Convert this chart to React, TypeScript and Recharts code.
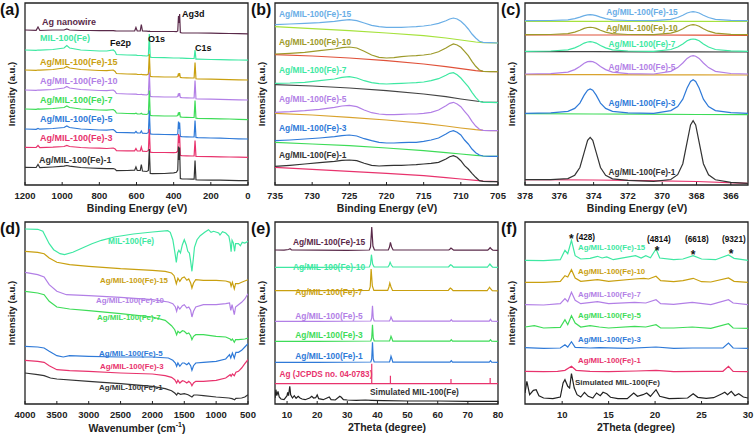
import React from "react";
import { Line, LineChart, ReferenceArea, XAxis, YAxis } from "recharts";

const FONT = "'Liberation Sans', Arial, Helvetica, sans-serif";

const DARK = "#333333";
const PINK = "#e8336d";
const BLUE = "#2f7ad8";
const GREEN = "#3edc58";
const PURPLE = "#b27fe6";
const GOLD = "#c9a010";
const MINT = "#3ee8a2";
const MAROON = "#5a2a4a";
const SKY = "#6aaee6";
const OLIVE = "#9d9a2a";
const LIME = "#a6e23c";
const RED = "#e0523a";
const ORANGE = "#d9a32e";

// (a) XPS survey
const surveyEnergy = [1200, 1140, 1130, 1120, 1050, 990, 975, 960, 900, 850, 800, 760, 725, 715, 708, 650, 610, 603, 596, 580, 574, 568, 545, 536, 531, 526, 515, 450, 400, 385, 378, 374, 371, 368, 364, 355, 330, 300, 290, 285, 280, 270, 200, 150, 100, 50, 0];
const surveyAgNanowire = [155, 154.7, 158, 154.5, 155, 155, 156, 155, 154.5, 154.5, 154.3, 154.3, 154.3, 154.2, 154, 154, 154, 157.5, 154, 154, 160.5, 154, 153.8, 153.6, 153.8, 153.5, 153.5, 153.5, 153.5, 153.3, 154, 169, 162, 171, 152.5, 152, 152, 152, 152, 152, 152, 152, 151.8, 151.6, 151.5, 151.4, 151.2];
const surveyMil = [135, 134.7, 135, 134.8, 135.5, 137, 139.5, 137, 135, 134.5, 134, 134, 135, 133.5, 130.5, 130, 129.8, 129.8, 129.6, 129.5, 129.5, 129.3, 129, 129.5, 151, 127.8, 127.5, 127.3, 127, 127, 127, 127, 127, 127, 126.8, 126.8, 126.7, 126.5, 126.5, 135, 125.8, 125.8, 125.5, 125.3, 125.2, 125, 124.8];
const survey15 = [115, 114.7, 115, 114.8, 115.5, 117, 118.5, 117, 115.5, 115, 114.5, 114.3, 115, 113.5, 111.5, 111, 110.8, 111, 110.6, 110.5, 110.7, 110.3, 110.2, 111, 131, 108.5, 108.3, 108, 108, 108, 108.5, 111.5, 109, 112, 107.5, 107.3, 107.2, 107, 107, 122.5, 106.2, 106, 105.8, 105.6, 105.4, 105.2, 105];
const survey10 = [95, 94.7, 95, 94.8, 95.5, 97, 98.5, 97, 95.5, 95, 94.5, 94.3, 95, 93.5, 91.5, 91, 90.8, 90.9, 90.6, 90.5, 90.7, 90.3, 90, 91, 112.5, 88.5, 88.3, 88, 88, 88, 88.5, 91.5, 89, 92, 87.5, 87.3, 87.2, 87, 87, 104.5, 86.2, 86, 85.8, 85.6, 85.4, 85.2, 85];
const survey7 = [76, 75.7, 76.2, 75.8, 76.5, 77.5, 79, 77.5, 76, 75.5, 75, 74.8, 75.5, 74, 72, 71.5, 71.3, 71.8, 71.1, 71, 71.8, 70.8, 70.5, 71.5, 94.5, 69.5, 69.3, 69, 69, 69, 69.5, 72.5, 70, 73, 68, 67.8, 67.7, 67.5, 67.5, 84.5, 66.8, 66.6, 66.4, 66.2, 66, 65.7, 65.3];
const survey5 = [56, 55.7, 56.5, 55.8, 56.5, 57.5, 59, 57.5, 56, 55.5, 55, 54.8, 55.5, 54, 52.5, 52.3, 52.2, 53.5, 52, 52, 54, 51.8, 51.5, 52.5, 74.5, 51, 50.8, 50.5, 50.3, 50.3, 51, 63.5, 56, 62.5, 48.5, 48.3, 48.2, 48, 48, 64.5, 47.5, 47.3, 47, 46.8, 46.5, 46.2, 46];
const survey3 = [37.7, 37.5, 39.5, 37.3, 37.8, 38.5, 39.5, 38.5, 37.5, 37, 36.8, 36.5, 37, 36, 34.3, 34.2, 34.2, 36.5, 34, 34, 38, 33.8, 33.5, 34.5, 56, 32.8, 32.6, 32.5, 32.3, 32.5, 34, 51, 42, 49.5, 29.5, 29.3, 29.2, 29, 29, 44.5, 28.6, 28.5, 28.3, 28.2, 28, 27.8, 27.6];
const survey1 = [17.7, 17.5, 20.5, 17.3, 18, 18.8, 19.5, 18.8, 17.5, 17, 16.6, 16.3, 16.5, 15.8, 14.3, 14.5, 14.8, 18, 14.5, 14.5, 20.5, 14, 13.5, 14.5, 36, 11.5, 11.3, 11.5, 12.2, 12.7, 15, 38.5, 25, 37.5, 6.5, 6.2, 6, 5.8, 5.8, 24.5, 5.2, 5, 4.9, 4.8, 4.6, 4.4, 4.3];

// (b) Fe 2p
const fe2pEnergy = [735, 733, 731, 729, 727, 726, 725, 724, 723, 722, 721, 720, 719, 718, 717, 716, 715, 714, 713, 712, 711.5, 711, 710.5, 710, 709.5, 709, 708.5, 708, 707.5, 707, 706, 705];
const fe2p15 = [160.3, 161, 161.7, 162.3, 163.7, 164.7, 165.3, 164.3, 162, 159.7, 158.3, 157.7, 157.7, 157.7, 158, 158.3, 159, 160, 161.7, 164.3, 166, 167, 166, 163.7, 160.3, 156, 151, 147, 143.7, 142.7, 142.3, 142];
const fe2p10 = [131, 131.7, 132.7, 134.3, 136, 137.3, 138, 137, 133.7, 130, 127.7, 127, 127.3, 128.3, 129, 129.3, 130, 131, 133.3, 137, 139.3, 141, 140, 137.7, 133.7, 129.3, 123.7, 118.7, 115, 113.7, 113.3, 113.3];
const fe2p7 = [101.7, 102, 102.7, 104.3, 106, 107.7, 108.3, 107, 104.3, 102.3, 101.3, 101, 101.3, 101.7, 102, 102.3, 103, 104.3, 106.3, 109.7, 111.7, 112.3, 110.3, 107, 102.7, 98.3, 92.7, 87.7, 83.7, 82.7, 82.7, 82.3];
const fe2p5 = [72.7, 73.3, 74.3, 75.7, 77.7, 79, 79.7, 78.3, 75, 72.3, 71, 70.3, 70.3, 70.7, 71, 71, 71.7, 72.7, 75, 79.3, 81.7, 82.7, 81, 78.3, 73.7, 69.3, 63.7, 59, 55.7, 54.7, 54.3, 54.3];
const fe2p3 = [44.3, 45, 46, 47, 48.3, 49.3, 50, 49, 46.3, 44.3, 42.7, 42, 42, 42.3, 42.7, 42.7, 43.7, 45, 47, 51, 53.3, 54.3, 52.7, 50, 45, 41, 36, 32.3, 30, 29, 28.7, 28.7];
const fe2p1 = [18.7, 19.7, 21, 22.3, 23.7, 24.7, 25, 24.3, 21.7, 19.7, 19, 19.3, 19.7, 19.7, 20, 20.3, 21, 21.7, 22.7, 26, 28.3, 29.3, 27.7, 24.3, 19.3, 16, 11.7, 7.7, 4.3, 3.7, 3.3, 3.3];
const fe2pBgEnergy = [735, 730, 725, 720, 715, 712, 710, 708, 707, 705];
const fe2pBg15 = [158.3, 156.3, 154.3, 152, 149.3, 147, 145, 143, 142.3, 142];
const fe2pBg10 = [130.3, 129, 127, 124.3, 121, 118.3, 116.3, 114.3, 113.7, 113.3];
const fe2pBg7 = [100.3, 99, 97, 94.3, 91, 88.3, 86, 84, 83, 82.7];
const fe2pBg5 = [71.7, 70, 67.7, 65, 61.7, 59, 57, 55.3, 54.7, 54.3];
const fe2pBg3 = [42.7, 41, 39.3, 37, 34.3, 32.3, 31, 29.7, 29, 28.7];
const fe2pBg1 = [17.7, 15.7, 13.7, 11.7, 9.3, 7.3, 6, 4.7, 4, 3.3];

// (c) Ag 3d
const ag3dEnergy = [378, 376.5, 375.5, 375.1, 374.8, 374.55, 374.35, 374.2, 374.05, 373.85, 373.6, 373.3, 372.9, 372, 370.5, 369.5, 369.1, 368.8, 368.55, 368.35, 368.2, 368.05, 367.85, 367.6, 367.3, 366.9, 366, 365];
const ag3d15 = [164.3, 164.5, 165.2, 166.4, 167.9, 169.4, 170.1, 170.3, 170.1, 169.4, 167.9, 166.4, 165.2, 164.5, 164.3, 165.6, 167.5, 169.7, 172, 173, 173.3, 173, 172, 169.7, 167.5, 165.6, 164.6, 164.3];
const ag3d10 = [150.3, 150.5, 151.4, 152.9, 154.7, 156.6, 157.5, 157.7, 157.5, 156.6, 154.7, 152.9, 151.4, 150.5, 150.3, 151.8, 153.8, 156.3, 158.8, 160, 160.3, 160, 158.8, 156.3, 153.8, 151.8, 150.6, 150.3];
const ag3d7 = [133.7, 134, 135.1, 137.1, 139.5, 141.9, 143, 143.3, 143, 141.9, 139.5, 137.1, 135.1, 134, 133.7, 135.5, 138, 141.1, 144.2, 145.6, 146, 145.6, 144.2, 141.1, 138, 135.5, 134.1, 133.7];
const ag3d5 = [111, 111.4, 112.9, 115.4, 118.6, 121.8, 123.3, 123.7, 123.3, 121.8, 118.6, 115.4, 112.9, 111.4, 111, 113.7, 117.4, 122, 126.6, 128.8, 129.3, 128.8, 126.6, 122, 117.4, 113.7, 111.5, 111];
const ag3d3 = [71.7, 72.2, 73.6, 76.6, 81.9, 89.9, 94.8, 96, 94.8, 89.9, 81.9, 76.6, 73.6, 72.2, 71.7, 74.4, 78.4, 85.8, 96.9, 103.6, 105.3, 103.6, 96.9, 85.8, 78.4, 74.4, 72.4, 71.7];
const ag3d1 = [5.3, 5.3, 6.4, 9.8, 17.5, 32.6, 44.7, 47.7, 44.7, 32.6, 17.5, 9.7, 6.2, 4.6, 3.6, 5.5, 10.3, 21.3, 42.8, 60, 64.3, 60, 42.8, 21.3, 10.2, 5.2, 2.6, 1.7];
const ag3dBgEnergy = [378, 374, 371, 368, 365];
const ag3dBg15 = [163.7, 163.7, 163.7, 163.6, 163.5];
const ag3dBg10 = [150, 150, 150, 149.8, 149.7];
const ag3dBg7 = [133.3, 133.3, 133.2, 133.1, 133];
const ag3dBg5 = [110.3, 110.3, 110.2, 110.1, 110];
const ag3dBg3 = [71.3, 71, 70.8, 70.5, 70.3];
const ag3dBg1 = [5.3, 5, 4.3, 3.5, 1.7];

// (d) FTIR, [wavenumber, transmittance]
const irMil = [[4000, 175], [3800, 174.7], [3720, 172.7], [3680, 167.7], [3620, 160.3], [3550, 154.3], [3450, 150.3], [3380, 149.3], [3250, 151.7], [3100, 156], [2950, 160.3], [2800, 163.7], [2600, 167], [2300, 170], [2000, 172], [1760, 173.3], [1720, 171.7], [1680, 164.3], [1650, 152.7], [1625, 141.7], [1605, 151], [1585, 153.7], [1560, 151], [1530, 159.3], [1500, 164.3], [1470, 159.3], [1445, 152.7], [1420, 151], [1400, 142.7], [1380, 132.7], [1360, 144.3], [1340, 156.7], [1300, 164.3], [1250, 168.3], [1180, 171.7], [1120, 174.3], [1080, 171.7], [1040, 172.7], [960, 171], [940, 169], [900, 172.3], [850, 171], [800, 167.7], [780, 161], [765, 152.3], [750, 163.7], [730, 161], [710, 152.7], [695, 160.3], [650, 160.3], [620, 158.3], [590, 161.7], [550, 161], [500, 162.7]];
const ir15 = [[4000, 152.7], [3800, 151.7], [3700, 150.3], [3620, 146], [3500, 141.7], [3300, 139.3], [3000, 137.7], [2500, 135.3], [2000, 133.7], [1800, 132.7], [1700, 131], [1660, 128.3], [1625, 120.3], [1600, 125.7], [1570, 122.7], [1535, 126], [1500, 127], [1460, 123.7], [1430, 125], [1400, 121], [1380, 116], [1355, 121], [1320, 124.3], [1200, 123.7], [1000, 123.7], [850, 123], [780, 121.7], [765, 117.7], [745, 121.7], [715, 115], [695, 120.3], [650, 120.3], [600, 121.7], [500, 124.3]];
const ir10 = [[4000, 131.7], [3800, 129.3], [3700, 127], [3620, 119.3], [3500, 112.7], [3350, 109.3], [3000, 108.3], [2500, 106.7], [2000, 104.3], [1750, 102], [1680, 100.3], [1640, 97], [1620, 92.7], [1600, 97.7], [1570, 95], [1530, 98.3], [1500, 99.3], [1460, 96], [1430, 97], [1400, 93.7], [1380, 87], [1355, 92.7], [1320, 97], [1200, 99.3], [1000, 99.3], [850, 100.3], [790, 101], [770, 93.7], [750, 99.3], [715, 89.3], [695, 97], [650, 99.3], [600, 101.7], [550, 105], [500, 110.3]];
const ir7 = [[4000, 112.7], [3800, 111], [3700, 109.3], [3620, 102.7], [3500, 97], [3300, 95], [3000, 93.3], [2500, 90.3], [2000, 87], [1800, 83.7], [1700, 78.3], [1650, 74.3], [1620, 69.3], [1600, 72.7], [1570, 71], [1530, 73.3], [1500, 72.7], [1460, 70.3], [1430, 71], [1400, 68.3], [1380, 64.3], [1355, 67.7], [1320, 69.3], [1200, 69.3], [1000, 67.7], [850, 67], [780, 65], [765, 63.7], [745, 65], [715, 61.7], [695, 64.3], [650, 64.3], [550, 65], [500, 66]];
const ir5 = [[4000, 57.7], [3800, 57], [3700, 56], [3620, 52.7], [3500, 48.3], [3400, 47], [3300, 48.3], [3000, 47.7], [2500, 47], [2000, 47], [1750, 46], [1680, 43.7], [1640, 41], [1620, 37.7], [1600, 41], [1570, 37.7], [1530, 41], [1500, 41], [1460, 39.3], [1430, 41], [1400, 38.3], [1380, 33.7], [1355, 38.3], [1320, 41], [1200, 41.7], [1000, 42.7], [850, 45], [790, 49.3], [770, 46], [745, 51], [715, 46], [690, 51.7], [650, 51.7], [600, 53.7], [550, 57], [500, 60.3]];
const ir3 = [[4000, 43.7], [3800, 42.7], [3700, 41.7], [3620, 38.3], [3500, 34.3], [3300, 33.3], [3000, 32.7], [2500, 31], [2000, 30], [1800, 28.3], [1700, 26.7], [1650, 24.3], [1620, 21], [1600, 23.7], [1570, 21], [1530, 23.3], [1500, 22.7], [1460, 21], [1430, 22.7], [1400, 21], [1380, 18.3], [1355, 21], [1320, 22.7], [1200, 22.7], [1000, 23.7], [850, 26], [780, 29.3], [765, 27.7], [745, 30], [715, 28.3], [690, 31.7], [650, 32.7], [600, 36], [550, 40.3], [500, 44.3]];
const ir1 = [[4000, 31], [3800, 29.3], [3700, 28.3], [3600, 26], [3500, 25], [3000, 22.7], [2500, 20.3], [2000, 17.7], [1800, 15.3], [1700, 13.3], [1650, 11], [1620, 9], [1600, 11], [1560, 9.7], [1500, 10.3], [1440, 9.3], [1380, 7], [1350, 9], [1300, 9], [1200, 8.3], [1000, 7], [800, 6], [750, 5.3], [710, 4.3], [690, 5.7], [600, 6], [550, 7], [500, 9.3]];

// (e) XRD wide, [2theta, intensity]
const xrd15 = [[6, 154], [9, 153.8], [10.5, 154.5], [11, 155.3], [11.5, 154], [20, 153.8], [30, 153.7], [37.3, 154], [37.7, 157], [38.1, 177], [38.5, 158], [39, 154], [43.6, 154], [44, 157], [44.3, 161.7], [44.7, 157], [45.2, 154], [63.7, 154], [64.1, 155], [64.4, 156], [64.8, 155], [65.3, 153.8], [76.6, 153.8], [77, 155], [77.4, 156.3], [77.8, 155], [78.3, 153.8], [80, 153.6]];
const xrd10 = [[6, 136.7], [20, 136.7], [37.3, 137], [37.7, 140], [38, 149.3], [38.4, 140], [38.9, 137], [43.5, 137], [43.9, 139], [44.2, 141.7], [44.6, 139], [45.1, 137], [63.6, 137], [64, 138.5], [64.3, 139.3], [64.7, 138.5], [65.2, 136.8], [76.5, 136.8], [76.9, 138.5], [77.3, 140], [77.7, 138.5], [78.2, 136.8], [80, 136.6]];
const xrd7 = [[6, 113.3], [20, 113.3], [37.2, 113.6], [37.6, 117], [37.9, 135], [38.3, 118], [38.8, 113.6], [43.4, 113.6], [43.8, 117], [44.1, 121], [44.5, 117], [45, 113.5], [63.5, 113.5], [63.9, 115], [64.2, 116], [64.6, 115], [65.1, 113.3], [76.4, 113.3], [76.8, 115], [77.2, 116.7], [77.6, 115], [78.1, 113.3], [80, 113.2]];
const xrd5 = [[6, 82.7], [20, 82.7], [37.8, 83], [38.1, 86], [38.35, 98.3], [38.6, 86], [38.9, 83], [44, 83], [44.3, 85], [44.5, 87], [44.8, 85], [45.1, 82.9], [64.1, 82.9], [64.5, 84.3], [64.9, 82.9], [77.1, 82.9], [77.5, 84.7], [77.9, 82.9], [80, 82.6]];
const xrd3 = [[6, 62.7], [20, 62.7], [37.8, 63], [38.1, 66], [38.35, 79.3], [38.6, 66], [38.9, 63], [44, 63], [44.3, 65.5], [44.5, 67.7], [44.8, 65.5], [45.1, 62.9], [64.1, 62.9], [64.5, 64.3], [64.9, 62.9], [77.1, 62.9], [77.5, 64.3], [77.9, 62.9], [80, 62.6]];
const xrd1 = [[6, 41.7], [20, 41.7], [37.8, 42], [38.1, 45], [38.35, 61.7], [38.6, 45], [38.9, 42], [44, 42], [44.3, 45], [44.5, 47.7], [44.8, 45], [45.1, 41.9], [64.1, 41.9], [64.5, 43.3], [64.9, 41.9], [77.1, 41.9], [77.5, 43.3], [77.9, 41.9], [80, 41.6]];
const xrdJcpds = [[6, 20.3], [38.1, 20.3], [38.1, 40.3], [38.1, 20.3], [44.3, 20.3], [44.3, 28.3], [44.3, 20.3], [64.4, 20.3], [64.4, 25], [64.4, 20.3], [77.4, 20.3], [77.4, 26], [77.4, 20.3], [80, 20.3]];
const xrdSim = [[6, 6], [6.3, 14.3], [6.6, 8.3], [7, 12.7], [7.4, 7], [8, 5], [9, 4.3], [10, 8.3], [10.2, 11.7], [10.5, 8.3], [10.9, 17.7], [11.2, 9.3], [11.8, 6], [12.4, 8.3], [13, 5.7], [13.7, 7.7], [14.3, 6], [15, 5], [16, 4.3], [17.5, 6], [18.2, 7.7], [18.8, 6], [19.5, 6.3], [20, 9], [20.5, 5.3], [22, 4.3], [24, 7], [24.6, 4.3], [26, 4], [27.5, 7.7], [28, 6.7], [28.7, 4.3], [30, 4], [33, 3.7], [36, 4], [38, 3.7], [42, 3.3], [50, 3], [60, 3], [70, 2.7], [80, 2.7]];

// (f) XRD low angle
const lowSim = [[6, 11], [6.2, 22.7], [6.5, 9.3], [6.9, 13.7], [7.2, 14.3], [7.5, 8.3], [8, 6], [9, 5.3], [9.8, 7], [10.1, 21], [10.3, 24.3], [10.6, 17.7], [10.8, 16], [11, 30.3], [11.3, 16], [11.6, 9.3], [12, 7], [12.4, 11.7], [12.8, 7.7], [13.3, 6], [13.7, 11], [14.1, 8.3], [14.4, 11.7], [14.8, 10.3], [15.2, 6.7], [16, 5.3], [17, 5.3], [17.7, 11], [18.1, 7.7], [18.7, 9.3], [19.1, 11], [19.5, 7.7], [20.1, 14.3], [20.5, 7.7], [21.5, 5.3], [22.5, 5.7], [23.5, 6], [24.1, 10.3], [24.6, 6.7], [25.5, 5.7], [26.3, 6.3], [27.2, 10.3], [27.5, 11.7], [27.8, 9.3], [28.2, 12.7], [28.6, 8.3], [29, 10.3], [29.5, 7], [30, 6]];
const low1 = [[6, 32.7], [8, 32.3], [9.5, 32.7], [10.3, 33.7], [11, 37.7], [11.5, 33.7], [13, 32.7], [15, 32.3], [18, 33], [20.1, 33.7], [22, 32.3], [25, 32.7], [27.3, 32.7], [27.9, 37.7], [28.4, 32.7], [30, 32.3]];
const low3 = [[6, 56.3], [8, 55.7], [9.8, 56], [10.3, 59.3], [10.6, 57], [11, 62.3], [11.4, 56.7], [13, 56], [14, 56.3], [17, 55.7], [20.1, 57], [22, 55.7], [24, 56], [27.3, 56], [27.9, 61], [28.4, 56], [30, 55.7]];
const low5 = [[6, 77], [7, 78.3], [8, 76], [9.8, 76.7], [10.3, 84.3], [10.6, 79.3], [11, 88.3], [11.4, 81], [12, 77], [13, 78.3], [14, 77], [15, 76], [17.8, 77.7], [19, 77], [20.1, 79.3], [20.6, 76], [22, 76], [24, 77], [26, 75.7], [27.9, 80.3], [28.4, 76], [30, 75.7]];
const low7 = [[6, 99.3], [8, 99], [9.8, 100.3], [10.3, 105.3], [10.6, 102.3], [11, 111.7], [11.4, 103.7], [12, 100.3], [13.8, 102.3], [15, 100.3], [17.8, 101.7], [19, 101], [20.1, 104.3], [20.6, 100.3], [22, 99.7], [24, 101.7], [26, 99.3], [27.9, 104.3], [28.4, 101], [30, 99.3]];
const low10 = [[6, 121.7], [8, 121.7], [9.8, 122.7], [10.3, 128.3], [10.6, 127], [11, 134.3], [11.4, 126], [12, 122.7], [13.8, 124.3], [15, 122.7], [17.8, 125], [18.8, 125.7], [19.3, 125], [20.1, 127.7], [20.6, 123.3], [22, 122.3], [23, 123.3], [24.1, 125.7], [25, 122.3], [26, 122], [27.9, 126], [28.5, 122.7], [30, 121.7]];
const low15 = [[6, 143.7], [8, 143.3], [9.8, 144.3], [10.3, 153.7], [10.6, 150.3], [11, 163.7], [11.4, 148.3], [12, 145], [13, 145.7], [13.8, 147.7], [14.3, 146], [14.8, 147], [15.5, 144.3], [17.9, 148.3], [18.5, 146], [19, 148.3], [19.5, 146.3], [20.1, 155], [20.5, 146], [22, 144.3], [23, 145], [24.1, 148.3], [25, 145], [26.5, 144.3], [27.9, 149], [28.5, 145.7], [30, 143.7]];

type Pt = { x: number; y: number };
type Curve = { key: string; color: string; points: Pt[] };

const zip = (xs: number[], ys: number[]): Pt[] => xs.map((x, i) => ({ x, y: ys[i] }));
const pairs = (p: number[][]): Pt[] => p.map(([x, y]) => ({ x, y }));

const Y_MAX = 182;

function Panel({ left, top, domain, ticks, reversed, curves }: {
  left: number; top: number; domain: [number, number]; ticks: number[]; reversed?: boolean; curves: Curve[];
}) {
  return (
    <div style={{ position: "absolute", left, top }}>
      <LineChart width={252} height={219} margin={{ top: 3, right: 4, bottom: 4, left: 25 }}>
        <XAxis
          type="number"
          dataKey="x"
          domain={domain}
          ticks={ticks}
          interval={0}
          reversed={reversed}
          allowDataOverflow
          axisLine={false}
          tickSize={-3}
          tickMargin={10}
          height={30}
          tickLine={{ stroke: "#222" }}
          tick={{ fontSize: 9.5, fontWeight: 700, fill: "#222", fontFamily: FONT }}
        />
        <YAxis type="number" domain={[0, Y_MAX]} hide allowDataOverflow />
        <ReferenceArea x1={domain[0]} x2={domain[1]} y1={0} y2={Y_MAX} fill="none" stroke="#222" strokeWidth={1.3} />
        {curves.map((c) => (
          <Line
            key={c.key}
            data={c.points}
            dataKey="y"
            type="linear"
            stroke={c.color}
            strokeWidth={1.2}
            dot={false}
            activeDot={false}
            isAnimationActive={false}
          />
        ))}
      </LineChart>
    </div>
  );
}

function Txt({ x, y, color = "#111", size = 9, anchor = "start", rotate, children }: {
  x: number; y: number; color?: string; size?: number; anchor?: "start" | "middle"; rotate?: number; children: React.ReactNode;
}) {
  const tx = anchor === "middle" ? "-50%" : "0";
  return (
    <div
      style={{
        position: "absolute",
        left: x,
        top: y,
        transform: `translate(${tx}, -50%)${rotate ? ` rotate(${rotate}deg)` : ""}`,
        color,
        fontSize: size,
        fontWeight: 700,
        fontFamily: FONT,
        whiteSpace: "nowrap",
        lineHeight: 1,
      }}
    >
      {children}
    </div>
  );
}

const L15 = "Ag/MIL-100(Fe)-15";
const L10 = "Ag/MIL-100(Fe)-10";
const L7 = "Ag/MIL-100(Fe)-7";
const L5 = "Ag/MIL-100(Fe)-5";
const L3 = "Ag/MIL-100(Fe)-3";
const L1 = "Ag/MIL-100(Fe)-1";

export default function App() {
  const curvesA: Curve[] = [
    { key: "agnw", color: MAROON, points: zip(surveyEnergy, surveyAgNanowire) },
    { key: "mil", color: MINT, points: zip(surveyEnergy, surveyMil) },
    { key: "15", color: GOLD, points: zip(surveyEnergy, survey15) },
    { key: "10", color: PURPLE, points: zip(surveyEnergy, survey10) },
    { key: "7", color: GREEN, points: zip(surveyEnergy, survey7) },
    { key: "5", color: BLUE, points: zip(surveyEnergy, survey5) },
    { key: "3", color: PINK, points: zip(surveyEnergy, survey3) },
    { key: "1", color: DARK, points: zip(surveyEnergy, survey1) },
  ];
  const curvesB: Curve[] = [
    { key: "bg15", color: LIME, points: zip(fe2pBgEnergy, fe2pBg15) },
    { key: "bg10", color: RED, points: zip(fe2pBgEnergy, fe2pBg10) },
    { key: "bg7", color: "#444", points: zip(fe2pBgEnergy, fe2pBg7) },
    { key: "bg5", color: ORANGE, points: zip(fe2pBgEnergy, fe2pBg5) },
    { key: "bg3", color: GREEN, points: zip(fe2pBgEnergy, fe2pBg3) },
    { key: "bg1", color: PINK, points: zip(fe2pBgEnergy, fe2pBg1) },
    { key: "15", color: SKY, points: zip(fe2pEnergy, fe2p15) },
    { key: "10", color: OLIVE, points: zip(fe2pEnergy, fe2p10) },
    { key: "7", color: MINT, points: zip(fe2pEnergy, fe2p7) },
    { key: "5", color: PURPLE, points: zip(fe2pEnergy, fe2p5) },
    { key: "3", color: BLUE, points: zip(fe2pEnergy, fe2p3) },
    { key: "1", color: DARK, points: zip(fe2pEnergy, fe2p1) },
  ];
  const curvesC: Curve[] = [
    { key: "bg15", color: LIME, points: zip(ag3dBgEnergy, ag3dBg15) },
    { key: "bg10", color: RED, points: zip(ag3dBgEnergy, ag3dBg10) },
    { key: "bg7", color: "#444", points: zip(ag3dBgEnergy, ag3dBg7) },
    { key: "bg5", color: ORANGE, points: zip(ag3dBgEnergy, ag3dBg5) },
    { key: "bg3", color: GREEN, points: zip(ag3dBgEnergy, ag3dBg3) },
    { key: "bg1", color: PINK, points: zip(ag3dBgEnergy, ag3dBg1) },
    { key: "15", color: SKY, points: zip(ag3dEnergy, ag3d15) },
    { key: "10", color: OLIVE, points: zip(ag3dEnergy, ag3d10) },
    { key: "7", color: MINT, points: zip(ag3dEnergy, ag3d7) },
    { key: "5", color: PURPLE, points: zip(ag3dEnergy, ag3d5) },
    { key: "3", color: BLUE, points: zip(ag3dEnergy, ag3d3) },
    { key: "1", color: DARK, points: zip(ag3dEnergy, ag3d1) },
  ];
  const curvesD: Curve[] = [
    { key: "mil", color: MINT, points: pairs(irMil) },
    { key: "15", color: GOLD, points: pairs(ir15) },
    { key: "10", color: PURPLE, points: pairs(ir10) },
    { key: "7", color: GREEN, points: pairs(ir7) },
    { key: "5", color: BLUE, points: pairs(ir5) },
    { key: "3", color: PINK, points: pairs(ir3) },
    { key: "1", color: DARK, points: pairs(ir1) },
  ];
  const curvesE: Curve[] = [
    { key: "15", color: MAROON, points: pairs(xrd15) },
    { key: "10", color: MINT, points: pairs(xrd10) },
    { key: "7", color: GOLD, points: pairs(xrd7) },
    { key: "5", color: PURPLE, points: pairs(xrd5) },
    { key: "3", color: GREEN, points: pairs(xrd3) },
    { key: "1", color: BLUE, points: pairs(xrd1) },
    { key: "jc", color: PINK, points: pairs(xrdJcpds) },
    { key: "sim", color: "#222", points: pairs(xrdSim) },
  ];
  const curvesF: Curve[] = [
    { key: "15", color: MINT, points: pairs(low15) },
    { key: "10", color: GOLD, points: pairs(low10) },
    { key: "7", color: PURPLE, points: pairs(low7) },
    { key: "5", color: GREEN, points: pairs(low5) },
    { key: "3", color: BLUE, points: pairs(low3) },
    { key: "1", color: PINK, points: pairs(low1) },
    { key: "sim", color: "#222", points: pairs(lowSim) },
  ];

  const yLabel = (x: number, y: number) => (
    <Txt x={x} y={y} anchor="middle" size={9.5} rotate={-90} color="#222">Intensity (a.u.)</Txt>
  );

  return (
    <div style={{ position: "absolute", left: 0, top: 0, width: 756, height: 438, background: "#fff", overflow: "hidden" }}>
      <style>{".recharts-surface{overflow:visible}"}</style>
      <Panel left={0} top={0} domain={[0, 1200]} ticks={[0, 200, 400, 600, 800, 1000, 1200]} reversed curves={curvesA} />
      <Panel left={250} top={0} domain={[705, 735]} ticks={[705, 710, 715, 720, 725, 730, 735]} reversed curves={curvesB} />
      <Panel left={500} top={0} domain={[365, 378]} ticks={[366, 368, 370, 372, 374, 376, 378]} reversed curves={curvesC} />
      <Panel left={0} top={219} domain={[500, 4000]} ticks={[500, 1000, 1500, 2000, 2500, 3000, 3500, 4000]} reversed curves={curvesD} />
      <Panel left={250} top={219} domain={[6, 80]} ticks={[10, 20, 30, 40, 50, 60, 70, 80]} curves={curvesE} />
      <Panel left={500} top={219} domain={[6, 30]} ticks={[10, 15, 20, 25, 30]} curves={curvesF} />

      {/* panel letters */}
      <Txt x={0} y={10} size={16} color="#111">(a)</Txt>
      <Txt x={251} y={10} size={16} color="#111">(b)</Txt>
      <Txt x={501} y={10} size={16} color="#111">(c)</Txt>
      <Txt x={0} y={229} size={16} color="#111">(d)</Txt>
      <Txt x={251} y={229} size={16} color="#111">(e)</Txt>
      <Txt x={501} y={229} size={16} color="#111">(f)</Txt>

      {/* axis titles */}
      {yLabel(12, 94)}
      {yLabel(262, 94)}
      {yLabel(512, 94)}
      {yLabel(12, 313)}
      {yLabel(262, 313)}
      {yLabel(512, 313)}
      <Txt x={137} y={208} anchor="middle" size={10.5} color="#222">Binding Energy (eV)</Txt>
      <Txt x={387} y={208} anchor="middle" size={10.5} color="#222">Binding Energy (eV)</Txt>
      <Txt x={637} y={208} anchor="middle" size={10.5} color="#222">Binding Energy (eV)</Txt>
      <Txt x={137} y={427} anchor="middle" size={10.5} color="#222">
        Wavenumber (cm<sup style={{ fontSize: 7 }}>-1</sup>)
      </Txt>
      <Txt x={387} y={427} anchor="middle" size={10.5} color="#222">2Theta (degree)</Txt>
      <Txt x={636} y={427} anchor="middle" size={10.5} color="#222">2Theta (degree)</Txt>

      {/* (a) labels */}
      <Txt x={42} y={22} color={MAROON}>Ag nanowire</Txt>
      <Txt x={40} y={38} color={MINT}>MIL-100(Fe)</Txt>
      <Txt x={110} y={43} color="#111">Fe2p</Txt>
      <Txt x={148} y={39} color="#111">O1s</Txt>
      <Txt x={195} y={48} color="#111">C1s</Txt>
      <Txt x={182} y={14} color="#111">Ag3d</Txt>
      <Txt x={40} y={62} color={GOLD}>{L15}</Txt>
      <Txt x={40} y={81} color={PURPLE}>{L10}</Txt>
      <Txt x={40} y={100} color={GREEN}>{L7}</Txt>
      <Txt x={40} y={119} color={BLUE}>{L5}</Txt>
      <Txt x={40} y={138} color={PINK}>{L3}</Txt>
      <Txt x={39} y={160} color={DARK}>{L1}</Txt>

      {/* (b) labels */}
      <Txt x={279} y={14} size={8.4} color={SKY}>{L15}</Txt>
      <Txt x={279} y={42} size={8.4} color={OLIVE}>{L10}</Txt>
      <Txt x={279} y={70} size={8.4} color={MINT}>{L7}</Txt>
      <Txt x={279} y={99} size={8.4} color={PURPLE}>{L5}</Txt>
      <Txt x={279} y={128} size={8.4} color={BLUE}>{L3}</Txt>
      <Txt x={279} y={155} size={8.4} color={DARK}>{L1}</Txt>

      {/* (c) labels */}
      <Txt x={642} y={12} size={8.3} anchor="middle" color={SKY}>{L15}</Txt>
      <Txt x={642} y={28} size={8.3} anchor="middle" color={OLIVE}>{L10}</Txt>
      <Txt x={642} y={44} size={8.3} anchor="middle" color={MINT}>{L7}</Txt>
      <Txt x={642} y={67} size={8.3} anchor="middle" color={PURPLE}>{L5}</Txt>
      <Txt x={642} y={103} size={8.3} anchor="middle" color={BLUE}>{L3}</Txt>
      <Txt x={642} y={172} size={8.3} anchor="middle" color={DARK}>{L1}</Txt>

      {/* (d) labels */}
      <Txt x={108} y={241} size={8.3} color={MINT}>MIL-100(Fe)</Txt>
      <Txt x={100} y={281} size={7.9} color={GOLD}>{L15}</Txt>
      <Txt x={96} y={301} size={7.9} color={PURPLE}>{L10}</Txt>
      <Txt x={97} y={318} size={7.9} color={GREEN}>{L7}</Txt>
      <Txt x={99} y={354} size={7.9} color={BLUE}>{L5}</Txt>
      <Txt x={100} y={367} size={7.9} color={PINK}>{L3}</Txt>
      <Txt x={99} y={388} size={7.9} color={DARK}>{L1}</Txt>

      {/* (e) labels */}
      <Txt x={329} y={242} size={8.4} anchor="middle" color={MAROON}>{L15}</Txt>
      <Txt x={329} y={267} size={8.4} anchor="middle" color={MINT}>{L10}</Txt>
      <Txt x={329} y={292} size={8.4} anchor="middle" color={GOLD}>{L7}</Txt>
      <Txt x={329} y={316} size={8.4} anchor="middle" color={PURPLE}>{L5}</Txt>
      <Txt x={329} y={335} size={8.4} anchor="middle" color={GREEN}>{L3}</Txt>
      <Txt x={329} y={356} size={8.4} anchor="middle" color={BLUE}>{L1}</Txt>
      <Txt x={326} y={375} size={8.2} anchor="middle" color={PINK}>Ag (JCPDS no. 04-0783)</Txt>
      <Txt x={370} y={392} size={8.4} color={DARK}>Simulated MIL-100(Fe)</Txt>

      {/* (f) labels */}
      <Txt x={569} y={236} color="#111" size={8.2}><span style={{ fontSize: 12, position: "relative", top: 3 }}>*</span> (428)</Txt>
      <Txt x={647} y={240} color="#111" size={8.2}>(4814)</Txt>
      <Txt x={657} y={251} anchor="middle" color="#111" size={12}>*</Txt>
      <Txt x={685} y={240} color="#111" size={8.2}>(6618)</Txt>
      <Txt x={693} y={255} anchor="middle" color="#111" size={12}>*</Txt>
      <Txt x={722} y={240} color="#111" size={8.2}>(9321)</Txt>
      <Txt x={731} y={254} anchor="middle" color="#111" size={12}>*</Txt>
      <Txt x={578} y={248} size={7.8} color={MINT}>{L15}</Txt>
      <Txt x={578} y={272} size={7.8} color={GOLD}>{L10}</Txt>
      <Txt x={578} y={295} size={7.8} color={PURPLE}>{L7}</Txt>
      <Txt x={578} y={316} size={7.8} color={GREEN}>{L5}</Txt>
      <Txt x={578} y={340} size={7.8} color={BLUE}>{L3}</Txt>
      <Txt x={578} y={361} size={7.8} color={PINK}>{L1}</Txt>
      <Txt x={575} y={383} size={8} color={DARK}>Simulated MIL-100(Fe)</Txt>
    </div>
  );
}
